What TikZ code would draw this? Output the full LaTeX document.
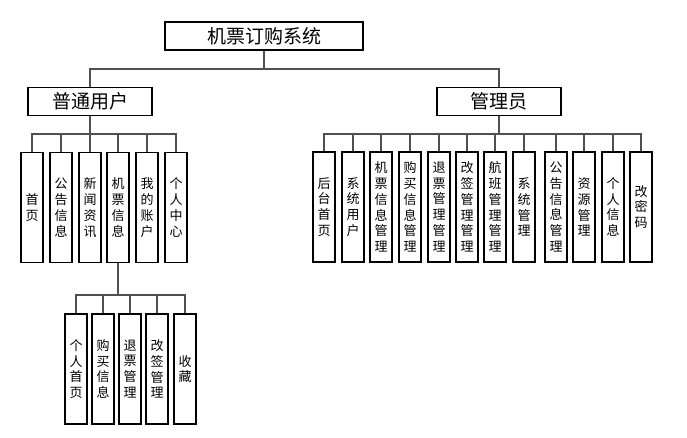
\documentclass[tikz,border=0pt]{standalone}
\usepackage{fontspec}
\setmainfont{Noto Sans CJK SC}
\usepackage{tikz}
\usetikzlibrary{positioning}
\definecolor{LinkGrey}{HTML}{505050}

\begin{document}
\begin{tikzpicture}[x=1pt, y=-1pt,
  head/.style={draw=black, line width=1.2pt, inner sep=0pt, minimum height=28pt,
               font=\fontsize{19}{22}\selectfont},
  leaf/.style={draw=black, line width=1.2pt, inner sep=0pt, minimum width=22pt,
               minimum height=110pt, align=center, font=\fontsize{13}{15.8}\selectfont},
  link/.style={LinkGrey, line width=1.2pt}]
\useasboundingbox (0,0) rectangle (687,438);
%% top levels
\node[head, minimum width=198pt] (root)  at (264,36)    {机票订购系统};
\node[head, minimum width=124pt] (user)  at (90,101.5)  {普通用户};
\node[head, minimum width=124pt] (admin) at (499,101.5) {管理员};
\coordinate (rjoin) at (264,69);
\draw[link] (root.south) -- (rjoin);
\draw[link] (rjoin) -| (user.north);
\draw[link] (rjoin) -| (admin.north);
%% user side
\coordinate (ujoin) at (90,134);
\draw[link] (user.south) -- (ujoin);
\foreach \i/\x/\l in {1/32/{首\\页}, 2/61/{公\\告\\信\\息}, 3/90/{新\\闻\\资\\讯},
                      4/118/{机\\票\\信\\息}, 5/147/{我\\的\\账\\户}, 6/176/{个\\人\\中\\心}}
  {\node[leaf] (u\i) at (\x,207.5) {\l};
   \draw[link] (ujoin) -| (u\i.north);}
%% under 机票信息
\coordinate (sjoin) at (118,295);
\draw[link] (u4.south) -- (sjoin);
\foreach \i/\x/\l in {1/76/{个\\人\\首\\页}, 2/103/{购\\买\\信\\息}, 3/130/{退\\票\\管\\理},
                      4/157/{改\\签\\管\\理}, 5/185/{收\\藏}}
  {\node[leaf] (s\i) at (\x,369) {\l};
   \draw[link] (sjoin) -| (s\i.north);}
%% admin side
\coordinate (ajoin) at (499,134);
\draw[link] (admin.south) -- (ajoin);
\foreach \i/\x/\l in {1/324/{后\\台\\首\\页}, 2/353/{系\\统\\用\\户}, 3/381/{机\\票\\信\\息\\管\\理},
                      4/410/{购\\买\\信\\息\\管\\理}, 5/439/{退\\票\\管\\理\\管\\理},
                      6/467/{改\\签\\管\\理\\管\\理}, 7/495/{航\\班\\管\\理\\管\\理},
                      8/524/{系\\统\\管\\理}, 9/556/{公\\告\\信\\息\\管\\理},
                      10/584/{资\\源\\管\\理}, 11/613/{个\\人\\信\\息}, 12/641/{改\\密\\码}}
  {\node[leaf] (a\i) at (\x,207) {\l};
   \draw[link] (ajoin) -| (a\i.north);}
\end{tikzpicture}
\end{document}
